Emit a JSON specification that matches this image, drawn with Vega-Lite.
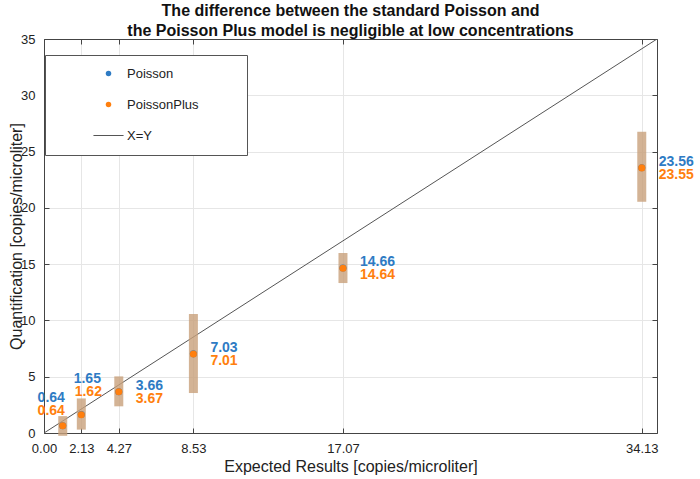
{
  "$schema": "https://vega.github.io/schema/vega-lite/v6.json",
  "width": 613,
  "height": 394,
  "autosize": {"type": "none"},
  "padding": {"left": 44, "top": 39, "right": 43, "bottom": 46},
  "config": {
    "font": "Liberation Sans",
    "view": {"stroke": null},
    "axis": {
      "domainColor": "#444444",
      "tickColor": "#444444",
      "labelColor": "#222222",
      "titleColor": "#222222",
      "labelFontSize": 13,
      "titleFontSize": 16,
      "titleFontWeight": "normal",
      "gridColor": "#e6e6e6",
      "tickSize": -5,
      "labelFlush": false,
      "labelOverlap": false
    }
  },
  "title": {
    "text": ["The difference between the standard Poisson and", "the Poisson Plus model is negligible at low concentrations"],
    "fontSize": 16,
    "fontWeight": "bold",
    "color": "#111111",
    "anchor": "middle",
    "lineHeight": 20,
    "offset": -6
  },
  "datasets": {
    "diag": [
      {"x": 0, "q": 0},
      {"x": 35, "q": 35}
    ],
    "bars": [
      {"x": 1.07, "lo": -0.25, "hi": 1.5},
      {"x": 2.13, "lo": 0.3, "hi": 3.07},
      {"x": 4.27, "lo": 2.37, "hi": 5.03},
      {"x": 8.53, "lo": 3.55, "hi": 10.57},
      {"x": 17.07, "lo": 13.32, "hi": 15.99},
      {"x": 34.13, "lo": 20.54, "hi": 26.76}
    ],
    "pts": [
      {"x": 1.07, "series": "Poisson", "q": 0.64},
      {"x": 2.13, "series": "Poisson", "q": 1.65},
      {"x": 4.27, "series": "Poisson", "q": 3.66},
      {"x": 8.53, "series": "Poisson", "q": 7.03},
      {"x": 17.07, "series": "Poisson", "q": 14.66},
      {"x": 34.13, "series": "Poisson", "q": 23.56},
      {"x": 1.07, "series": "PoissonPlus", "q": 0.64},
      {"x": 2.13, "series": "PoissonPlus", "q": 1.62},
      {"x": 4.27, "series": "PoissonPlus", "q": 3.67},
      {"x": 8.53, "series": "PoissonPlus", "q": 7.01},
      {"x": 17.07, "series": "PoissonPlus", "q": 14.64},
      {"x": 34.13, "series": "PoissonPlus", "q": 23.55}
    ]
  },
  "layer": [
    {
      "data": {"name": "diag"},
      "mark": {"type": "line", "color": "#555555", "strokeWidth": 1, "clip": true},
      "encoding": {
        "x": {"field": "x", "type": "quantitative", "scale": {"domain": [0, 35], "nice": false},
          "axis": {"orient": "top", "values": [0, 2.13, 4.27, 8.53, 17.07, 34.13], "labels": false, "title": null, "grid": false}},
        "y": {"field": "q", "type": "quantitative", "scale": {"domain": [0, 35], "nice": false},
          "axis": {"orient": "right", "values": [0, 5, 10, 15, 20, 25, 30, 35], "labels": false, "title": null, "grid": false}}
      }
    },
    {
      "data": {"name": "bars"},
      "mark": {"type": "rule", "color": "#c8a07a", "opacity": 0.8, "strokeWidth": 9},
      "encoding": {
        "x": {"field": "x", "type": "quantitative", "scale": {"domain": [0, 35], "nice": false},
          "axis": {"orient": "bottom", "values": [0, 2.13, 4.27, 8.53, 17.07, 34.13], "format": ".2f", "grid": true,
            "title": "Expected Results [copies/microliter]", "labelPadding": 14, "titlePadding": 3}},
        "y": {"field": "lo", "type": "quantitative", "scale": {"domain": [0, 35], "nice": false},
          "axis": {"orient": "left", "values": [0, 5, 10, 15, 20, 25, 30, 35], "grid": true,
            "title": "Quantification [copies/microliter]", "labelPadding": 14, "titlePadding": -4}},
        "y2": {"field": "hi"}
      }
    },
    {
      "data": {"name": "pts"},
      "mark": {"type": "point", "filled": true, "opacity": 1, "size": 50},
      "encoding": {
        "x": {"field": "x", "type": "quantitative", "axis": null},
        "y": {"field": "q", "type": "quantitative", "axis": null},
        "color": {"field": "series", "type": "nominal",
          "scale": {"domain": ["Poisson", "PoissonPlus", "X=Y"], "range": ["#2e7bc4", "#ff7f0e", "#555555"]},
          "legend": {
            "title": "\u00a0", "titleOrient": "right", "titlePadding": 36, "titleFontSize": 4,
            "orient": "none", "legendX": 1, "legendY": 16,
            "strokeColor": "#555555", "fillColor": "white", "padding": 12,
            "rowPadding": 17, "symbolSize": 30, "symbolOffset": 45, "labelOffset": 12,
            "labelFontSize": 13, "labelColor": "#222222"
          }},
        "shape": {"field": "series", "type": "nominal",
          "scale": {"domain": ["Poisson", "PoissonPlus", "X=Y"], "range": ["circle", "circle", "M-5.5,-0.18L5.5,-0.18L5.5,0.18L-5.5,0.18Z"]}}
      }
    },
    {
      "data": {"name": "pts"},
      "transform": [{"filter": "datum.series === 'Poisson' && datum.x > 3"}],
      "mark": {"type": "text", "align": "left", "baseline": "middle", "dx": 17, "dy": -6, "fontSize": 14, "fontWeight": "bold", "color": "#2e7bc4"},
      "encoding": {
        "x": {"field": "x", "type": "quantitative", "axis": null},
        "y": {"field": "q", "type": "quantitative", "axis": null},
        "text": {"field": "q", "type": "quantitative", "format": ".2f"}
      }
    },
    {
      "data": {"name": "pts"},
      "transform": [{"filter": "datum.series === 'PoissonPlus' && datum.x > 3"}],
      "mark": {"type": "text", "align": "left", "baseline": "middle", "dx": 17, "dy": 7, "fontSize": 14, "fontWeight": "bold", "color": "#ff7f0e"},
      "encoding": {
        "x": {"field": "x", "type": "quantitative", "axis": null},
        "y": {"field": "q", "type": "quantitative", "axis": null},
        "text": {"field": "q", "type": "quantitative", "format": ".2f"}
      }
    },
    {
      "data": {"name": "pts"},
      "transform": [{"filter": "datum.series === 'Poisson' && datum.x === 1.07"}],
      "mark": {"type": "text", "align": "center", "baseline": "middle", "dx": -11.5, "dy": -28, "fontSize": 14, "fontWeight": "bold", "color": "#2e7bc4"},
      "encoding": {
        "x": {"field": "x", "type": "quantitative", "axis": null},
        "y": {"field": "q", "type": "quantitative", "axis": null},
        "text": {"field": "q", "type": "quantitative", "format": ".2f"}
      }
    },
    {
      "data": {"name": "pts"},
      "transform": [{"filter": "datum.series === 'PoissonPlus' && datum.x === 1.07"}],
      "mark": {"type": "text", "align": "center", "baseline": "middle", "dx": -11.5, "dy": -14.5, "fontSize": 14, "fontWeight": "bold", "color": "#ff7f0e"},
      "encoding": {
        "x": {"field": "x", "type": "quantitative", "axis": null},
        "y": {"field": "q", "type": "quantitative", "axis": null},
        "text": {"field": "q", "type": "quantitative", "format": ".2f"}
      }
    },
    {
      "data": {"name": "pts"},
      "transform": [{"filter": "datum.series === 'Poisson' && datum.x === 2.13"}],
      "mark": {"type": "text", "align": "center", "baseline": "middle", "dx": 6, "dy": -35, "fontSize": 14, "fontWeight": "bold", "color": "#2e7bc4"},
      "encoding": {
        "x": {"field": "x", "type": "quantitative", "axis": null},
        "y": {"field": "q", "type": "quantitative", "axis": null},
        "text": {"field": "q", "type": "quantitative", "format": ".2f"}
      }
    },
    {
      "data": {"name": "pts"},
      "transform": [{"filter": "datum.series === 'PoissonPlus' && datum.x === 2.13"}],
      "mark": {"type": "text", "align": "center", "baseline": "middle", "dx": 7, "dy": -23, "fontSize": 14, "fontWeight": "bold", "color": "#ff7f0e"},
      "encoding": {
        "x": {"field": "x", "type": "quantitative", "axis": null},
        "y": {"field": "q", "type": "quantitative", "axis": null},
        "text": {"field": "q", "type": "quantitative", "format": ".2f"}
      }
    }
  ],
  "resolve": {"axis": {"x": "independent", "y": "independent"}}
}
